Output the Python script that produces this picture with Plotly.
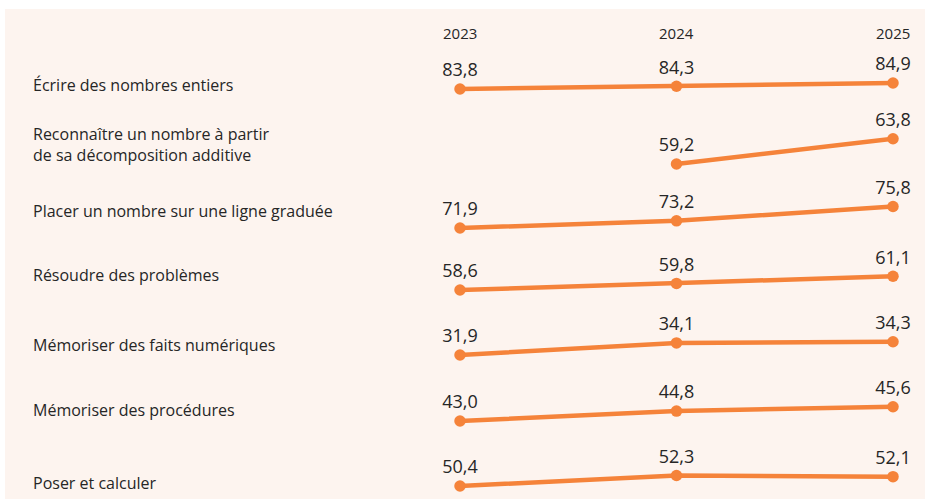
import plotly.graph_objects as go
from plotly.subplots import make_subplots

# ---- data ----
years = [2023, 2024, 2025]
categories = [
    "Écrire des nombres entiers",
    "Reconnaître un nombre à partir<br>de sa décomposition additive",
    "Placer un nombre sur une ligne graduée",
    "Résoudre des problèmes",
    "Mémoriser des faits numériques",
    "Mémoriser des procédures",
    "Poser et calculer",
]
values_2023 = [83.8, None, 71.9, 58.6, 31.9, 43.0, 50.4]
values_2024 = [84.3, 59.2, 73.2, 59.8, 34.1, 44.8, 52.3]
values_2025 = [84.9, 63.8, 75.8, 61.1, 34.3, 45.6, 52.1]

# ---- layout constants ----
W, H = 925, 499
ORANGE = "#f5833a"
BG = "#fdf4ef"
TEXT = "#262626"
FONT = "Open Sans"
k = 5.5                      # px per percentage point
baseline_px = [89, 164, 228, 290, 355, 421, 486]   # pixel row of each row's lowest value
label_px = [85, 144, 211, 275, 345, 410, 483]
x_left_px, x_right_px = 460, 893

n = len(categories)
fig = make_subplots(rows=n, cols=1)

for i in range(n):
    vals = [values_2023[i], values_2024[i], values_2025[i]]
    xs = [y for y, v in zip(years, vals) if v is not None]
    ys = [v for v in vals if v is not None]
    fig.add_trace(
        go.Scatter(
            x=xs, y=ys, mode="lines+markers+text",
            line=dict(color=ORANGE, width=4.5),
            marker=dict(color=ORANGE, size=11.5),
            text=[f"{v:.1f}".replace(".", ",") for v in ys],
            textposition="top center",
            textfont=dict(family=FONT, size=18, color=TEXT),
            cliponaxis=False, showlegend=False, hoverinfo="skip",
        ),
        row=i + 1, col=1,
    )
    vmin = min(ys)
    b = baseline_px[i]
    lo = vmin - 6 / k
    hi = vmin + 50 / k
    yname = "yaxis" if i == 0 else f"yaxis{i+1}"
    xname = "xaxis" if i == 0 else f"xaxis{i+1}"
    fig.layout[yname].update(
        domain=[1 - (b + 6) / H, 1 - (b - 50) / H], range=[lo, hi],
        visible=False, fixedrange=True,
    )
    fig.layout[xname].update(
        domain=[x_left_px / W, x_right_px / W], range=[years[0], years[-1]],
        visible=False, fixedrange=True,
    )
    fig.add_annotation(
        x=31 / W, xref="paper", y=1 - label_px[i] / H, yref="paper",
        text=categories[i], showarrow=False, xanchor="left", yanchor="middle",
        align="left", font=dict(family=FONT, size=16, color=TEXT),
    )

for yr in years:
    fig.add_annotation(
        x=yr, xref="x", y=1 - 33 / H, yref="paper", text=str(yr),
        showarrow=False, xanchor="center", yanchor="middle",
        font=dict(family=FONT, size=15, color=TEXT),
    )

fig.add_shape(type="rect", xref="paper", yref="paper",
              x0=5 / W, x1=1.01, y0=-0.01, y1=1 - 9 / H,
              fillcolor=BG, line=dict(width=0), layer="below")

fig.update_layout(
    width=W, height=H, margin=dict(l=0, r=0, t=0, b=0, pad=0),
    paper_bgcolor="white", plot_bgcolor="rgba(0,0,0,0)",
    separators=", ",
)

fig.write_html("out.html", config={"displayModeBar": False, "staticPlot": True},
               post_script="document.body.style.margin='0';document.body.style.overflow='hidden';")
